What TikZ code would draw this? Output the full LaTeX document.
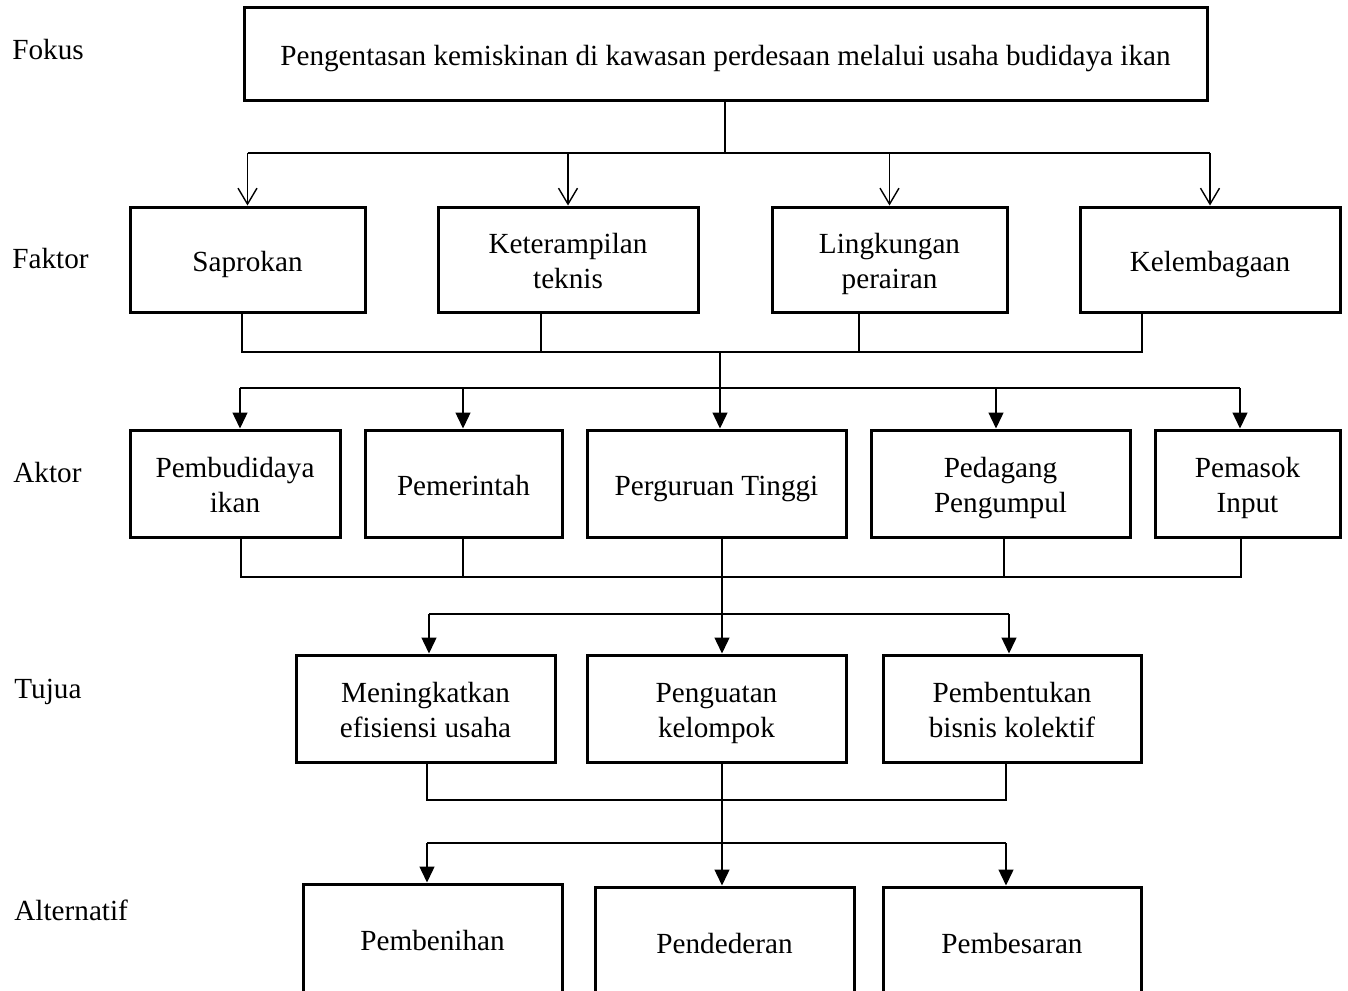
\documentclass[tikz,border=0pt]{standalone}
\usepackage{fontspec}
\setmainfont{Liberation Serif}
\usetikzlibrary{arrows.meta}
% line strut so every box line sits on the same baseline grid
\newcommand\st{\rule[-4pt]{0pt}{19.5pt}}
\newcommand\boxfont{\fontsize{14.6pt}{17.2pt}\selectfont\lineskiplimit=-20pt\relax}
\begin{document}
\begin{tikzpicture}[x=0.5pt,y=-0.5pt,
  every node/.style={font=\boxfont},
  box/.style={draw,line width=1.5pt,align=center,inner sep=0pt},
  lvl/.style={anchor=west,inner sep=0pt},
  conn/.style={line width=0.7pt},
  openarr/.style={conn,-{Straight Barb[length=8pt,width=9.5pt,line width=0.7pt]}},
  fillarr/.style={conn,-{Triangle[length=8pt,width=7.5pt]}}]
\useasboundingbox (0,0) rectangle (1348,990);
\clip (0,0) rectangle (1348,990);

% level labels
\node[lvl] (lfokus) at (12,50) {Fokus};
\node[lvl] (lfaktor) at (12,259) {Faktor};
\node[lvl] (laktor) at (13,473) {Aktor};
\node[lvl] (ltujuan) at (14,692) {Tujua};
\node[lvl] (lalt) at (14,910) {Alternatif};

% focus
\node[box,minimum width=481.5pt,minimum height=46.5pt] (fokus) at (725.5,54.5)
  {Pengentasan kemiskinan di kawasan perdesaan melalui usaha budidaya ikan\st};

% factors
\node[box,minimum width=117.5pt,minimum height=52.5pt] (sap) at (247.5,259.5) {Saprokan\st};
\node[box,minimum width=130pt,minimum height=52.5pt] (ket) at (568,259.5) {Keterampilan\st\\teknis\st};
\node[box,minimum width=117.5pt,minimum height=52.5pt] (lin) at (889.5,259.5) {Lingkungan\st\\perairan\st};
\node[box,minimum width=130pt,minimum height=52.5pt] (kel) at (1210,259.5) {Kelembagaan\st};

% actors
\node[box,minimum width=105pt,minimum height=53.5pt] (pbd) at (235,483.5) {Pembudidaya\st\\ikan\st};
\node[box,minimum width=98.5pt,minimum height=53.5pt] (pem) at (463.5,483.5) {Pemerintah\st};
\node[box,minimum width=129.5pt,minimum height=53.5pt] (pt) at (716.5,483.5) {Perguruan Tinggi\st};
\node[box,minimum width=129.5pt,minimum height=53.5pt] (ped) at (1000.5,483.5) {Pedagang\st\\Pengumpul\st};
\node[box,minimum width=92.5pt,minimum height=53.5pt] (pms) at (1247.5,483.5) {Pemasok\st\\Input\st};

% goals
\node[box,minimum width=129.5pt,minimum height=53.5pt] (efi) at (425.5,708.5) {Meningkatkan\st\\efisiensi usaha\st};
\node[box,minimum width=129.5pt,minimum height=53.5pt] (kuat) at (716.5,708.5) {Penguatan\st\\kelompok\st};
\node[box,minimum width=129pt,minimum height=53.5pt] (bis) at (1012,708.5) {Pembentukan\st\\bisnis kolektif\st};

% alternatives
\node[box,minimum width=129.5pt,minimum height=55pt] (beni) at (432.5,939) {Pembenihan\st};
\node[box,minimum width=129.5pt,minimum height=55pt] (dede) at (724.5,942) {Pendederan\st};
\node[box,minimum width=129pt,minimum height=55pt] (besar) at (1012,942) {Pembesaran\st};

% focus -> factors
\coordinate (b1) at (725,153);
\draw[conn] (fokus.south -| b1) -- (b1);
\draw[conn] (sap.north |- b1) -- (kel.north |- b1);
\foreach \n in {sap,ket,lin,kel}
  \draw[openarr] (\n.north |- b1) -- (\n.north);

% factors -> actors
\coordinate (m2) at (720,352);
\coordinate (f1) at (242,352);
\coordinate (f2) at (541,352);
\coordinate (f3) at (859,352);
\coordinate (f4) at (1142,352);
\draw[conn] (f1 |- sap.south) -- (f1) -- (f4) -- (f4 |- kel.south);
\draw[conn] (f2 |- ket.south) -- (f2);
\draw[conn] (f3 |- lin.south) -- (f3);
\coordinate (a1) at (240,388);
\coordinate (a2) at (463,388);
\coordinate (a4) at (996,388);
\coordinate (a5) at (1240,388);
\draw[conn] (a1) -- (a5);
\draw[fillarr] (m2) -- (m2 |- pt.north);
\draw[fillarr] (a1) -- (a1 |- pbd.north);
\draw[fillarr] (a2) -- (a2 |- pem.north);
\draw[fillarr] (a4) -- (a4 |- ped.north);
\draw[fillarr] (a5) -- (a5 |- pms.north);

% actors -> goals
\coordinate (g1) at (241,577);
\coordinate (g2) at (463,577);
\coordinate (g4) at (1004,577);
\coordinate (g5) at (1241,577);
\coordinate (m3) at (722,577);
\draw[conn] (g1 |- pbd.south) -- (g1) -- (g5) -- (g5 |- pms.south);
\draw[conn] (g2 |- pem.south) -- (g2);
\draw[conn] (g4 |- ped.south) -- (g4);
\coordinate (t1) at (429,614);
\coordinate (t3) at (1009,614);
\draw[conn] (t1) -- (t3);
\draw[fillarr] (m3 |- pt.south) -- (m3 |- kuat.north);
\draw[fillarr] (t1) -- (t1 |- efi.north);
\draw[fillarr] (t3) -- (t3 |- bis.north);

% goals -> alternatives
\coordinate (h1) at (427,800);
\coordinate (h3) at (1006,800);
\coordinate (m4) at (722,800);
\draw[conn] (h1 |- efi.south) -- (h1) -- (h3) -- (h3 |- bis.south);
\coordinate (k1) at (427,843);
\coordinate (k3) at (1006,843);
\draw[conn] (k1) -- (k3);
\draw[fillarr] (m4 |- kuat.south) -- (m4 |- dede.north);
\draw[fillarr] (k1) -- (k1 |- beni.north);
\draw[fillarr] (k3) -- (k3 |- besar.north);
\end{tikzpicture}
\end{document}
